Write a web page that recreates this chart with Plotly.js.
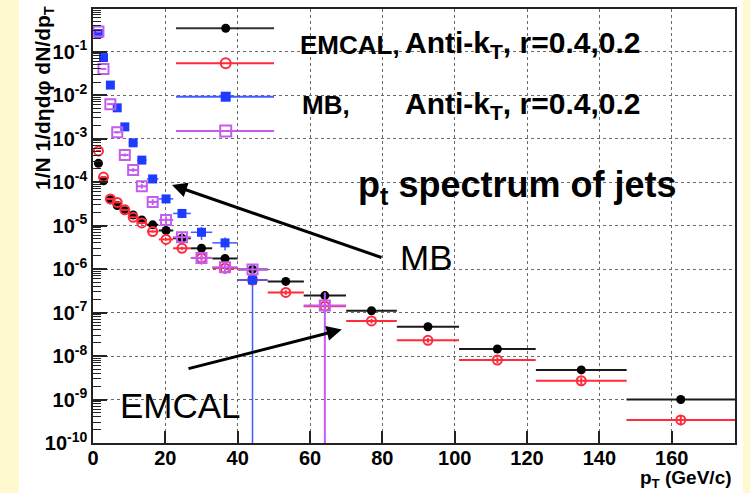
<!DOCTYPE html>
<html>
<head>
<meta charset="utf-8">
<script src="https://cdn.plot.ly/plotly-3.0.1.min.js"></script>
<style>
  html, body { margin: 0; padding: 0; background: #fff9cf; }
  #chart { width: 750px; height: 493px; }
</style>
</head>
<body>
<div id="chart"></div>
<script>
// Jet pT bins shared by all four spectra (GeV/c): bin centres and half-widths
const ptCentre    = [1.5, 2.9, 4.8, 6.7, 8.8, 11.1, 13.5, 16.5, 20.2, 24.6, 30.0, 36.5, 44.1, 53.3, 64.1, 77.0, 92.6, 111.8, 135.0, 162.5];
const ptHalfWidth = [0.7, 0.8, 0.95, 1.0, 1.1, 1.2, 1.35, 1.6, 2.0, 2.45, 2.95, 3.5, 4.15, 5.0, 5.85, 7.0, 8.6, 10.6, 12.55, 15.0];

// 1/N 1/(deta dphi) dN/dpT
const emcalR04 = [2.7e-4, 1.07e-4, 3.9e-5, 2.9e-5, 2.2e-5, 1.75e-5, 1.35e-5, 1.04e-5, 7.7e-6, 5.1e-6,
                  3.0e-6, 1.75e-6, 9.8e-7, 5.2e-7, 2.45e-7, 1.1e-7, 4.7e-8, 1.45e-8, 4.8e-9, 1.0e-9];
const emcalR02 = [5.2e-4, 1.3e-4, 4.1e-5, 3.4e-5, 2.3e-5, 1.55e-5, 1.15e-5, 7.3e-6, 4.8e-6, 3.0e-6,
                  1.8e-6, 1.05e-6, 5.6e-7, 2.9e-7, 1.4e-7, 6.4e-8, 2.3e-8, 8.1e-9, 2.7e-9, 3.4e-10];
const mbR04    = [0.26, 0.073, 0.017, 5.1e-3, 1.86e-3, 8.0e-4, 3.2e-4, 1.18e-4, 4.1e-5, 1.9e-5,
                  7.0e-6, 4.0e-6, 5.6e-7];
const mbR02    = [0.29, 0.040, 6.2e-3, 1.4e-3, 4.2e-4, 1.9e-4, 8.0e-5, 3.5e-5, 1.35e-5, 5.4e-6,
                  1.8e-6, 1.1e-6, 9.8e-7, null, 1.45e-7];

// relative statistical uncertainties
const emcalR04Rel = [0.02, 0.03, 0.03, 0.03, 0.03, 0.03, 0.04, 0.04, 0.05, 0.06,
                     0.08, 0.10, 0.12, 0.12, 0.12, 0.10, 0.10, 0.12, 0.15, 0.18];
const emcalR02Rel = [0.02, 0.03, 0.03, 0.03, 0.03, 0.04, 0.04, 0.05, 0.06, 0.08,
                     0.10, 0.12, 0.12, 0.12, 0.15, 0.12, 0.12, 0.15, 0.18, 0.25];
const mbR04Rel    = [0.02, 0.03, 0.04, 0.05, 0.06, 0.08, 0.08, 0.10, 0.15, 0.22, 0.33, 0.33, 1.0];
const mbR02Rel    = [0.02, 0.04, 0.05, 0.06, 0.08, 0.10, 0.12, 0.15, 0.20, 0.25, 0.30, 0.30, 0.25, null, 1.0];

// axis ticks
const xTickVals = [0, 20, 40, 60, 80, 100, 120, 140, 160];
const xTickText = ['0', '20', '40', '60', '80', '100', '120', '140', '160'];
const yTickExp  = [-10, -9, -8, -7, -6, -5, -4, -3, -2, -1];
const yTickVals = yTickExp.map(e => Math.pow(10, e));
const yTickText = yTickExp.map(e => '10<sup>' + e + '</sup>');
const yMinorVals = [];
yTickExp.concat([0]).forEach(e => {
  for (let m = 2; m <= 9; m++) yMinorVals.push(m * Math.pow(10, e - 1));
});

// pixel -> paper helpers for the 642 x 434 frame at (93, 9)
const PL = 93, PT = 9, PW = 642, PH = 434;
const px = x => (x - PL) / PW;
const py = y => (PT + PH - y) / PH;

function spectrum(values, rel, n, marker, errColor, errThick) {
  const x = ptCentre.slice(0, n);
  const dx = ptHalfWidth.slice(0, n);
  const dy = values.map((v, i) => (v == null || rel[i] == null) ? null : v * rel[i]);
  return {
    type: 'scatter', mode: 'markers', x: x, y: values,
    marker: marker,
    error_x: { type: 'data', array: dx, color: errColor, thickness: errThick, width: 0 },
    error_y: { type: 'data', array: dy, color: errColor, thickness: errThick, width: 0 },
    hoverinfo: 'skip', cliponaxis: true
  };
}

const BLACK = '#000000', RED = '#ff2a3a', BLUE = '#1e3cff', VIOLET = '#c55cf0';

const traces = [
  spectrum(emcalR04, emcalR04Rel, emcalR04.length,
           { symbol: 'circle', size: 9, color: BLACK }, '#1a1a1a', 2),
  spectrum(emcalR02, emcalR02Rel, emcalR02.length,
           { symbol: 'circle-open', size: 9, color: RED, line: { width: 2 } }, RED, 2),
  spectrum(mbR04, mbR04Rel, mbR04.length,
           { symbol: 'square', size: 9, color: BLUE }, '#3e5cff', 1.5),
  spectrum(mbR02, mbR02Rel, mbR02.length,
           { symbol: 'square-open', size: 10, color: VIOLET, line: { width: 2 } }, VIOLET, 2)
];

// legend glyphs, drawn on a hidden unit overlay
const legendRows = [
  { y: py(28.3),  color: '#333333', marker: { symbol: 'circle', size: 9, color: BLACK } },
  { y: py(63.3),  color: RED,       marker: { symbol: 'circle-open', size: 10, color: RED, line: { width: 2 } } },
  { y: py(96.7),  color: '#3e5cff', marker: { symbol: 'square', size: 10, color: BLUE } },
  { y: py(131.0), color: VIOLET,    marker: { symbol: 'square-open', size: 11, color: VIOLET, line: { width: 2 } } }
];
legendRows.forEach(r => {
  traces.push({ type: 'scatter', mode: 'lines', xaxis: 'x2', yaxis: 'y2',
                x: [px(176), px(274)], y: [r.y, r.y], line: { color: r.color, width: 2 }, hoverinfo: 'skip' });
  traces.push({ type: 'scatter', mode: 'markers', xaxis: 'x2', yaxis: 'y2',
                x: [px(225.7)], y: [r.y], marker: r.marker, hoverinfo: 'skip' });
});

const FAMILY = 'Liberation Sans, Arial, sans-serif';
const boldFont = (size) => ({ family: FAMILY, size: size, color: '#000', weight: 'bold' });
const plainFont = (size) => ({ family: FAMILY, size: size, color: '#000' });

const annotations = [
  // legend labels
  { text: 'EMCAL,', x: px(298), y: py(45), xanchor: 'left', font: boldFont(26) },
  { text: 'Anti-k<sub>T</sub>, r=0.4,0.2', x: px(403), y: py(45), xanchor: 'left', font: boldFont(30) },
  { text: 'MB,', x: px(300), y: py(105), xanchor: 'left', font: boldFont(26) },
  { text: 'Anti-k<sub>T</sub>, r=0.4,0.2', x: px(403), y: py(105), xanchor: 'left', font: boldFont(30) },
  // title inside the frame
  { text: 'p<sub>t</sub> spectrum of jets', x: px(517), y: py(187), xanchor: 'center', font: boldFont(36) },
  // arrows and their labels
  { text: 'MB', x: px(427), y: py(257), xanchor: 'center', font: plainFont(35) },
  { text: 'EMCAL', x: px(180), y: py(405), xanchor: 'center', font: plainFont(35) },
  { text: '', x: px(172), y: py(185), showarrow: true, axref: 'pixel', ayref: 'pixel',
    ax: 383 - 172, ay: 258 - 185, arrowhead: 2, arrowsize: 1, arrowwidth: 3, arrowcolor: '#000', standoff: 0 },
  { text: '', x: px(341.7), y: py(329.6), showarrow: true, axref: 'pixel', ayref: 'pixel',
    ax: 187 - 341.7, ay: 369 - 329.6, arrowhead: 2, arrowsize: 1, arrowwidth: 3, arrowcolor: '#000', standoff: 0 },
  // axis titles
  { text: '1/N 1/d\u03b7d\u03c6 dN/dp<sub>T</sub>', x: px(44), y: py(98), textangle: -90,
    xanchor: 'center', yanchor: 'middle', font: boldFont(21) },
  { text: 'p<sub>T</sub> (GeV/c)', x: px(734), y: py(479), xanchor: 'right', yanchor: 'middle', font: boldFont(19) }
].map(a => Object.assign({ xref: 'paper', yref: 'paper', showarrow: false, yanchor: 'middle' }, a));

const frameColor = '#222222';
const gridColor = '#6a6a6a';

const layout = {
  width: 750, height: 493,
  margin: { l: PL, r: 750 - PL - PW, t: PT, b: 493 - PT - PH },
  paper_bgcolor: '#fff9cf',
  plot_bgcolor: '#ffffff',
  showlegend: false,
  font: plainFont(18),
  xaxis: {
    range: [0, 177.5], tickmode: 'array', tickvals: xTickVals, ticktext: xTickText,
    ticks: 'inside', ticklen: 12, tickwidth: 1.5, tickcolor: frameColor,
    showgrid: true, gridcolor: gridColor, griddash: 'dot', gridwidth: 1,
    showline: true, linecolor: frameColor, linewidth: 1.5, mirror: true, zeroline: false,
    tickfont: boldFont(20), ticklabelstandoff: -4, fixedrange: true
  },
  yaxis: {
    type: 'log', range: [-10, -0.02], tickmode: 'array', tickvals: yTickVals, ticktext: yTickText,
    ticks: 'inside', ticklen: 14, tickwidth: 1.5, tickcolor: frameColor,
    minor: { tickmode: 'array', tickvals: yMinorVals, ticks: 'inside', ticklen: 8,
             tickwidth: 1, tickcolor: frameColor, showgrid: false },
    showgrid: true, gridcolor: gridColor, griddash: 'dot', gridwidth: 1,
    showline: true, linecolor: frameColor, linewidth: 1.5, mirror: true, zeroline: false,
    tickfont: boldFont(20), fixedrange: true
  },
  xaxis2: { overlaying: 'x', anchor: 'y2', range: [0, 1], visible: false, fixedrange: true },
  yaxis2: { overlaying: 'y', anchor: 'x2', range: [0, 1], visible: false, fixedrange: true },
  shapes: [
    { type: 'rect', xref: 'paper', yref: 'paper', layer: 'below',
      x0: px(19), x1: px(743), y0: py(493), y1: py(0),
      fillcolor: '#ffffff', line: { width: 0 } }
  ],
  annotations: annotations
};

Plotly.newPlot('chart', traces, layout, { displayModeBar: false });
</script>
</body>
</html>
